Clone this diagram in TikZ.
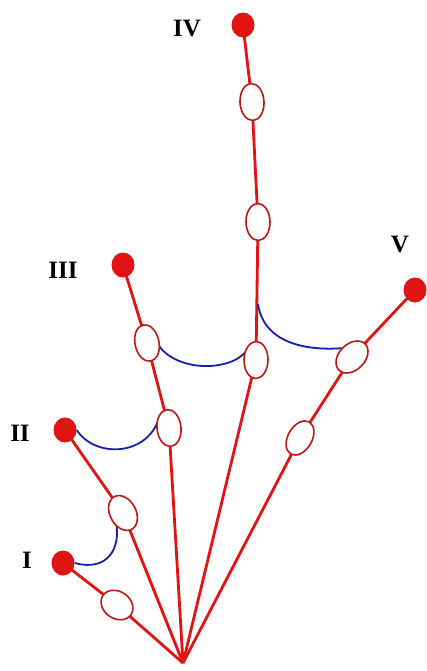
\documentclass[tikz,border=0pt]{standalone}
\usepackage{fontspec}
\setmainfont{Liberation Serif}
\usetikzlibrary{shapes.geometric}
\definecolor{bonered}{RGB}{225,20,20}
\definecolor{jointred}{RGB}{185,25,25}
\definecolor{linkblue}{RGB}{25,30,170}
\tikzset{
  bone/.style={draw=bonered, line width=2.8pt},
  joint/.style={ellipse, draw=jointred, line width=1.6pt, fill=white, minimum width=24pt, minimum height=37pt, inner sep=0pt},
  tipdot/.style={ellipse, fill=bonered, minimum width=23pt, minimum height=25pt, inner sep=0pt},
  link/.style={draw=linkblue, line width=1.8pt},
  lbl/.style={font=\bfseries\fontsize{25}{25}\selectfont, inner sep=0pt}
}
\begin{document}
\begin{tikzpicture}[x=1pt,y=-1pt]
\useasboundingbox (0,0) rectangle (426,671);
% root
\coordinate (root) at (183,663);
% tips
\node[tipdot] (t1) at (63,563) {};
\node[tipdot] (t2) at (65,430) {};
\node[tipdot] (t3) at (123,265) {};
\node[tipdot] (t4) at (243,25) {};
\node[tipdot] (t5) at (415,290) {};
% joint positions
\coordinate (c1a) at (117,605);
\coordinate (c2a) at (123,513);
\coordinate (c3a) at (169,428);
\coordinate (c3b) at (147,343);
\coordinate (c4a) at (256,360);
\coordinate (c4b) at (258,222);
\coordinate (c4c) at (252,102);
\coordinate (c5a) at (300,438);
\coordinate (c5b) at (352,357);
% bones
\draw[bone] (root) -- (c1a) -- (t1.center);
\draw[bone] (root) -- (c2a) -- (t2.center);
\draw[bone] (root) -- (c3a) -- (c3b) -- (t3.center);
\draw[bone] (root) -- (c4a) -- (c4b) -- (c4c) -- (t4.center);
\draw[bone] (root) -- (c5a) -- (c5b) -- (t5.center);
% blue links
\coordinate (v4) at (258,304);
\draw[link] (t1.east) .. controls (108,572) and (121,548) .. (116,522);
\draw[link] (t2.east) .. controls (95,458) and (145,456) .. (158,421);
\draw[link] (157,343) .. controls (175,373) and (232,372) .. (247,350);
\draw[link] (v4) .. controls (264,345) and (310,351) .. (344,348);
% joints
\node[joint, rotate=55, minimum width=27pt, minimum height=34pt] (j1a) at (c1a) {};
\node[joint, rotate=28, minimum width=26pt] (j2a) at (c2a) {};
\node[joint, rotate=6] (j3a) at (c3a) {};
\node[joint, rotate=12] (j3b) at (c3b) {};
\node[joint, rotate=-1] (j4a) at (c4a) {};
\node[joint, rotate=1] (j4b) at (c4b) {};
\node[joint, rotate=3] (j4c) at (c4c) {};
\node[joint, rotate=-30] (j5a) at (c5a) {};
\node[joint, rotate=-45, minimum width=26pt] (j5b) at (c5b) {};
% labels
\node[lbl] (l1) at (27,560) {I};
\node[lbl] (l2) at (20,433) {II};
\node[lbl] (l3) at (63,270) {III};
\node[lbl] (l4) at (187,29) {IV};
\node[lbl] (l5) at (400,245) {V};
\end{tikzpicture}
\end{document}
